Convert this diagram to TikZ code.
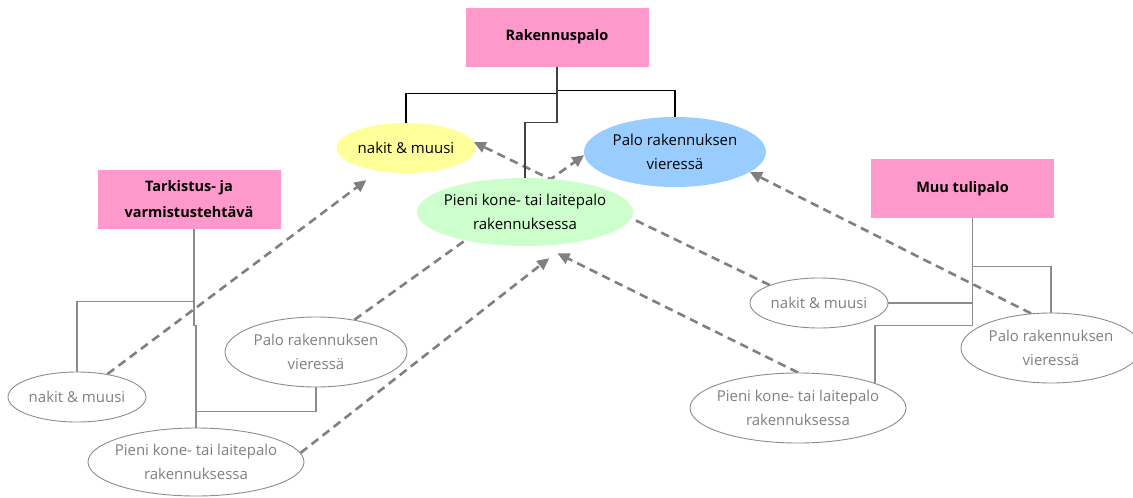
\documentclass[tikz,border=0pt]{standalone}
\usepackage{fontspec}
\setmainfont{Open Sans}
\usetikzlibrary{shapes.geometric,arrows.meta,backgrounds}
\definecolor{pinkbox}{HTML}{FF99CC}
\definecolor{yel}{HTML}{FFFF99}
\definecolor{blu}{HTML}{99CCFF}
\definecolor{grn}{HTML}{CCFFCC}
\definecolor{grayline}{HTML}{8C8C8C}
\definecolor{graytext}{HTML}{808080}
\definecolor{arrowgray}{HTML}{808080}
\begin{document}
\begin{tikzpicture}[x=1pt,y=-1pt,
  pinkrect/.style={rectangle, fill=pinkbox, inner sep=0pt, align=center,
    minimum width=183pt, minimum height=59pt,
    font=\bfseries\fontsize{14.5}{26}\selectfont},
  mainell/.style={ellipse, inner xsep=-30pt, inner ysep=-8pt, align=center,
    font=\fontsize{15}{23.5}\selectfont},
  subell/.style={ellipse, draw=grayline, line width=0.9pt, fill=white,
    text=graytext, inner xsep=-30pt, inner ysep=-8pt, align=center,
    font=\fontsize{15}{24.5}\selectfont},
  treeline/.style={draw=grayline, line width=1.2pt},
  blackline/.style={draw=black, line width=1.2pt},
  link/.style={draw=arrowgray, line width=2.6pt, dash pattern=on 8.5pt off 5.5pt,
    -{Triangle[length=12pt,width=11pt]}}]
\useasboundingbox (0,0) rectangle (1133,498);

% pink boxes
\node[pinkrect] (rak) at (557,37) {Rakennuspalo};
\node[pinkrect] (tar) at (189,199.5) {Tarkistus- ja\\varmistustehtävä};
\node[pinkrect] (muu) at (962.5,188.5) {Muu tulipalo};

% main coloured ellipses
\node[mainell, fill=yel, minimum width=139pt, minimum height=50pt] (yelN) at (406,148) {nakit \& muusi};
\node[mainell, fill=blu, minimum width=182pt, minimum height=70pt] (bluN) at (675,152) {Palo rakennuksen\\vieressä};
\node[mainell, fill=grn, minimum width=216pt, minimum height=68pt] (grnN) at (525,212) {Pieni kone- tai laitepalo\\rakennuksessa};

% grey ellipses
\node[subell, minimum width=138pt, minimum height=50pt] (nL) at (77,397) {nakit \& muusi};
\node[subell, minimum width=182pt, minimum height=70pt] (pL) at (316,352) {Palo rakennuksen\\vieressä};
\node[subell, minimum width=216pt, minimum height=68pt] (pkL) at (196,462) {Pieni kone- tai laitepalo\\rakennuksessa};
\node[subell, minimum width=138pt, minimum height=50pt] (nR) at (819,303) {nakit \& muusi};
\node[subell, minimum width=180pt, minimum height=70pt] (pR) at (1051,348) {Palo rakennuksen\\vieressä};
\node[subell, minimum width=216pt, minimum height=70pt] (pkR) at (798,408) {Pieni kone- tai laitepalo\\rakennuksessa};

% tree lines, top
\draw[blackline] (rak.south) -- ++(0,27) -| (yelN.north);
\draw[blackline] (rak.south) -- ++(0,24) -| (bluN.north);
\draw[draw=black!75, line width=1.2pt] (rak.south) -- ++(0,56) -| (grnN.north);

% tree lines, left
\draw[treeline] ([xshift=5pt]tar.south) -- ++(0,72) -| (nL.north);
\draw[treeline] ([xshift=5pt]tar.south) -- ++(0,96) -- ++(2,0) -- ++(0,86) -| (pL.south);
\draw[treeline] ([xshift=5pt]tar.south) -- ++(0,96) -- ++(2,0) -- (pkL.north);

% tree lines, right
\draw[treeline] ([xshift=10pt]muu.south) -- ++(0,48) -| (pR.north);
\draw[treeline] ([xshift=10pt]muu.south) |- (nR.east);
\draw[treeline] ([xshift=10pt]muu.south) -- ++(0,107) -| (pkR.18);

% dashed arrows, behind the coloured ellipses
\begin{scope}[on background layer]
\draw[link, shorten >=15pt] (nL.37) -- (yelN.220);
\draw[link] (pL.40) -- (bluN.182);
\draw[link, shorten >=24pt] (pkL.5) -- (grnN.-36);
\draw[link] (nR.160) -- (yelN.5);
\draw[link] (pR.120) -- (bluN.-15);
\draw[link, shorten >=17pt] (pkR.90) -- (grnN.-63);
\end{scope}
\end{tikzpicture}
\end{document}
